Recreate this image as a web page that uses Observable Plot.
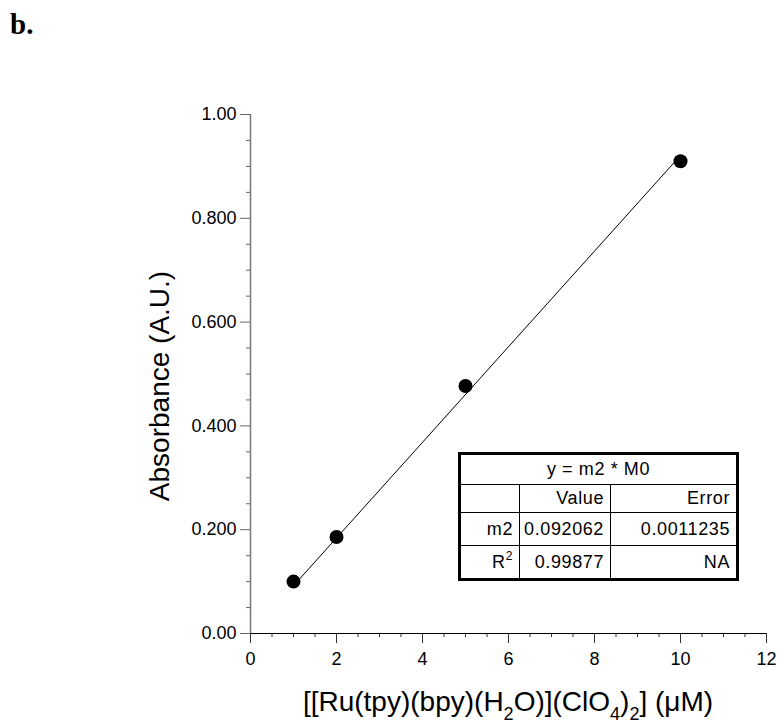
<!DOCTYPE html>
<html>
<head>
<meta charset="utf-8">
<script src="https://cdn.jsdelivr.net/npm/d3@7"></script>
<script src="https://cdn.jsdelivr.net/npm/@observablehq/plot@0.6"></script>
<style>
  body { margin: 0; background: #fff; }
  #wrap { position: relative; width: 783px; height: 727px; font-family: "Liberation Sans", Arial, sans-serif; overflow: hidden; }
  #chart { position: absolute; left: 0; top: 0; }
  #panel { position: absolute; left: 10px; top: 7px; font-family: "Liberation Serif", "Times New Roman", serif; font-weight: bold; font-size: 29px; line-height: 34px; }
  #xlabel { position: absolute; left: 250px; width: 516px; top: 688px; text-align: center; font-size: 28px; line-height: 28px; white-space: nowrap; }
  #xlabel sub { font-size: 18px; vertical-align: -9px; line-height: 0; }
  #fit { position: absolute; left: 458px; top: 452px; border-collapse: collapse; table-layout: fixed; border: 3px solid #000; font-size: 18px; letter-spacing: 0.6px; }
  #fit td { border: 1px solid #000; padding: 0 6px 0 0; text-align: right; white-space: nowrap; overflow: hidden; }
  #fit sup { font-size: 12px; vertical-align: 8px; line-height: 0; }
</style>
</head>
<body>
<div id="wrap">
  <div id="chart"></div>
  <div id="panel">b.</div>
  <div id="xlabel">[[Ru(tpy)(bpy)(H<sub>2</sub>O)](ClO<sub>4</sub>)<sub>2</sub>] (&mu;M)</div>
  <table id="fit">
    <colgroup><col style="width:60px"><col style="width:91px"><col style="width:127px"></colgroup>
    <tr style="height:31px"><td colspan="3" style="text-align:center;padding:0">y = m2 * M0</td></tr>
    <tr style="height:28px"><td></td><td>Value</td><td>Error</td></tr>
    <tr style="height:33px"><td>m2</td><td>0.092062</td><td>0.0011235</td></tr>
    <tr style="height:34px"><td>R<sup>2</sup></td><td>0.99877</td><td>NA</td></tr>
  </table>
</div>
<script>
// Data
const concentration = [1, 2, 5, 10];
const absorbance = [0.100, 0.186, 0.477, 0.910];
const fitX = [1, 10];
const fitY = [0.092, 0.921];
const xTicks = [0, 2, 4, 6, 8, 10, 12];
const xTickLabels = ["0", "2", "4", "6", "8", "10", "12"];
const yTicks = [0, 0.2, 0.4, 0.6, 0.8, 1.0];
const yTickLabels = ["0.00", "0.200", "0.400", "0.600", "0.800", "1.00"];
const xMinor = d3.range(0, 12.01, 0.5).filter(v => !xTicks.includes(v));
const yMinor = d3.range(0, 1.001, 0.05).map(v => +v.toFixed(2)).filter(v => !yTicks.some(t => Math.abs(t - v) < 1e-9));

const points = concentration.map((c, i) => ({x: c, y: absorbance[i]}));
const fit = fitX.map((c, i) => ({x: c, y: fitY[i]}));

const chart = Plot.plot({
  width: 783,
  height: 727,
  marginLeft: 250,
  marginRight: 17,
  marginTop: 114,
  marginBottom: 94,
  style: {fontFamily: "Liberation Sans, Arial, sans-serif", color: "#000", background: "#fff"},
  x: {domain: [0, 12]},
  y: {domain: [0, 1]},
  marks: [
    Plot.axisX({ticks: xMinor, tickSize: 4, tickFormat: () => "", label: null, stroke: "#333"}),
    Plot.axisX({ticks: xTicks, tickSize: 10, tickPadding: 9, tickFormat: (d, i) => xTickLabels[i], label: null, stroke: "#333", fontSize: 18}),
    Plot.axisY({ticks: yMinor, tickSize: 4, tickFormat: () => "", label: null, stroke: "#666"}),
    Plot.axisY({ticks: yTicks, tickSize: 10, tickPadding: 4, tickFormat: (d, i) => yTickLabels[i], label: null, stroke: "#666", fontSize: 18}),
    Plot.ruleY([0], {x1: 0, x2: 12, stroke: "#000", strokeWidth: 1.2}),
    Plot.ruleX([0], {y1: 0, y2: 1, stroke: "#777", strokeWidth: 1.5}),
    Plot.text(["Absorbance (A.U.)"], {frameAnchor: "left", textAnchor: "middle", lineAnchor: "middle", dx: -90, dy: 12, rotate: -90, fontSize: 28, fill: "#000"}),
    Plot.line(fit, {x: "x", y: "y", stroke: "#000", strokeWidth: 1}),
    Plot.dot(points, {x: "x", y: "y", r: 7, fill: "#000", stroke: "none"})
  ]
});
// enlarge tick labels
chart.querySelectorAll('g[aria-label*="tick label"]').forEach(g => {
  g.setAttribute("font-size", "18");
  g.querySelectorAll("text").forEach(t => t.style.fontSize = "18px");
});
document.getElementById("chart").appendChild(chart);
</script>
</body>
</html>
